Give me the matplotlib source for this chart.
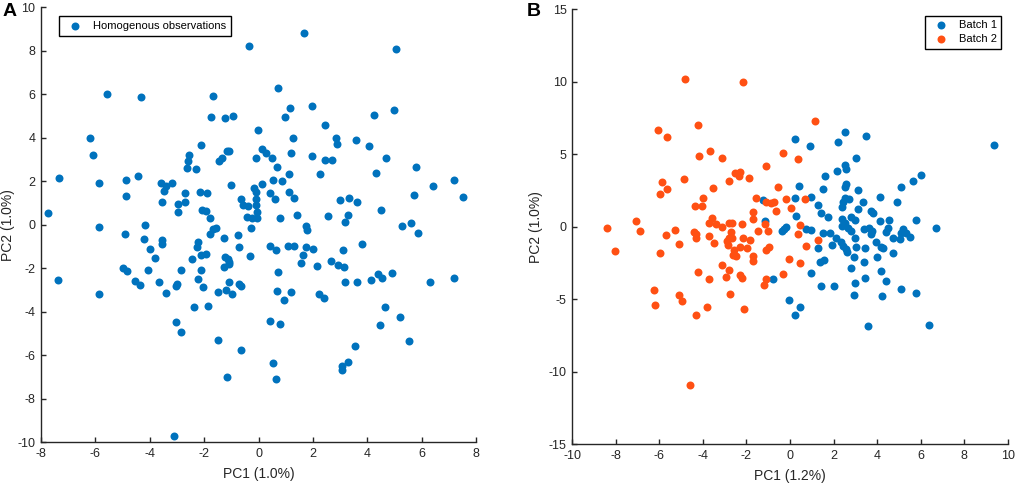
'''PCA score plots: homogenous observations (A) and two batches (B)'''
import matplotlib
matplotlib.use('Agg')
import matplotlib.pyplot as plt
import numpy as np
from matplotlib import rcParams
params = {'font.family': ['Liberation Sans', 'DejaVu Sans'], 'font.size': 8.5,
          'axes.unicode_minus': False}
rcParams.update(params)

# panel A, homogenous observations (PC1, PC2)
homo_x = [-0.34, -5.59, -4.34, -1.66, -1.75, -1.22, -0.92, -6.19, -6.1, -7.33, -5.87, -4.89,
          -4.89, -4.43, -0.02, -7.74,
          -2.11, -2.57, -2.6, -2.62, -2.29, -1.47, -1.33, -1.17, -1.07, -0.09, -3.58, -3.39,
          -3.19, -3.49, -3.54, -2.72, -2.17, -1.9, -2.97, -2.72, -2.97, -2.07, -1.92, -1.78,
          -1.0, -0.66, -0.58, -0.39, -0.42, -0.23, -0.27, -0.17, -0.09, -0.09, -0.11, -0.05, -0.06,
          1.68, 5.04, 0.71, 1.15, 0.99, 1.95, 2.46, 4.25, 4.98, 1.26, 2.84, 2.88, 3.57, 4.08,
          0.13, 0.26, 0.49, 1.21, 1.97, 2.46, 2.72, 4.68, 0.69, 1.12, 2.25, 4.33, 5.81, 0.55,
          0.88, 0.12, 6.41, 7.18, 0.43, 0.61, 1.13, 1.3, 2.99, 3.33, 3.62, 5.72, 7.52, 0.78,
          1.41, 2.56, 3.3, 3.17, 4.52, 1.75, 5.29, 5.61,
          -5.87, -4.16, -4.91, -4.21, -3.54, -3.54, -3.98, -3.79, -4.98, -4.83, -4.08, -4.56,
          -4.37, -3.66, -3.39, -7.39, -5.87, -3.02, -2.99, -2.84, -2.45, -2.27, -2.22, -2.12,
          -1.92, -2.1, -2.23, -2.05, -2.38, -1.86, -1.8, -1.68, -1.58, -1.28, -1.25, -1.14,
          -1.07, -1.1, -1.26, -1.48, -1.19, -1.08, -0.96, -0.71, -0.63, -0.75, -0.7, -0.3,
          -3.05, -2.84, -1.48, -0.65, -1.15, -3.1,
          1.79, 5.88, 0.41, 0.63, 1.08, 1.3, 1.73, 1.99, 1.62, 1.58, 2.14, 3.12, 3.8, 2.67,
          2.91, 3.16, 0.7, 3.18, 3.61, 4.12, 4.39, 4.56, 4.9, 6.29, 7.2, 0.69, 1.2, 0.92,
          2.21, 2.41, 4.66, 5.2, 4.47, 5.54, 0.41, 0.8, 3.56, 0.53, 0.65, 3.07, 3.08, 3.29]
homo_y = [8.22, 6.03, 5.87, 5.9, 4.95, 4.89, 4.98, 3.97, 3.23, 2.17, 1.9, 2.04,
          1.32, 2.24, 4.38, 0.54,
          3.69, 3.2, 2.93, 2.63, 2.57, 2.93, 3.09, 3.41, 3.38, 3.06, 1.94, 1.78,
          1.91, 1.55, 1.05, 1.45, 1.49, 1.46, 0.94, 1.05, 0.59, 0.67, 0.64, 0.33,
          1.82, 1.19, 0.9, 0.86, 0.38, 0.29, -0.15, 1.71, 1.51, 1.17, 0.9, 0.59, 0.29,
          8.84, 8.09, 6.28, 5.38, 4.95, 5.45, 4.58, 5.05, 5.28, 4.01, 3.98, 3.71, 3.9, 3.63,
          3.49, 3.28, 3.05, 3.29, 3.17, 2.96, 3.0, 3.09, 2.68, 2.34, 2.34, 2.39, 2.65, 2.05,
          2.0, 1.87, 1.78, 2.05, 1.44, 1.19, 1.49, 1.21, 1.12, 1.21, 1.04, 1.35, 1.3, 0.29,
          0.44, 0.41, 0.46, 0.15, 0.67, -0.05, -0.05, 0.08,
          -0.12, -0.03, -0.43, -0.66, -0.71, -0.89, -1.13, -1.53, -1.98, -2.12, -2.09, -2.58,
          -2.79, -2.65, -3.13, -2.55, -3.16, -2.82, -2.71, -2.1, -1.56, -1.03, -0.8, -1.41,
          -1.33, -2.07, -2.47, -2.87, -3.79, -3.74, -0.43, -0.18, -0.15, -0.61, -1.5, -1.58,
          -1.69, -1.81, -1.95, -3.1, -2.99, -2.64, -3.16, -2.7, -2.81, -0.46, -1.03, -1.43,
          -4.46, -4.92, -5.29, -5.77, -6.99, -9.69,
          -0.26, -0.38, -0.97, -1.18, -0.97, -0.97, -1.01, -1.12, -1.38, -1.76, -1.9, -1.15, -0.9, -1.67,
          -1.87, -1.95, -2.19, -2.65, -2.61, -2.53, -2.25, -2.45, -2.22, -2.64, -2.44, -3.04, -3.11, -3.45,
          -3.16, -3.36, -3.77, -4.25, -4.62, -5.34, -4.42, -4.54, -5.55, -6.37, -7.1, -6.49, -6.69, -6.3]

# panel B, batch 1
b1_x = [-1.24, -1.16, -0.28, -0.2, -0.35, -0.78,
        3.05, 2.51, 2.56, 2.16, 1.6, 0.43, 1.52, 2.56, 2.52, 3.13, 4.12, 0.25, 0.98, 2.51,
        2.7, 2.44, 3.36, 1.29, 2.39, 3.13, 3.71, 3.82, 1.41, 1.75, 0.29, 2.82, 2.98, 2.41,
        2.51, 2.41, 4.12, 0.75, 0.95, 2.67, 2.82, 3.39, 3.62, 3.77, 1.52, 1.83,
        3.71, 2.97, 2.13, 2.33, 3.93, 1.95, 2.44, 2.56, 2.64, 3.05, 3.43, 4.2, 1.29, 2.94,
        4.0, 1.37, 1.56, 3.39, 2.78, 4.17, 0.98, 3.43, 2.97, 1.41, 2.02,
        0.25, 0.9, 2.53, 3.48, 2.22, 9.38, 6.02, 5.67, 5.1, 4.92, 5.81, 4.55, 5.2,
        6.7, 5.11, 5.06, 5.52, 5.34, 4.71, 4.43, 4.49, 4.75, 4.29, 4.42, 5.08, 5.81, 4.23,
        2.94, -0.05, 0.46, 0.21, 3.57, 6.38]
b1_y = [1.86, 0.39, -0.16, -0.02, -0.3, -3.63,
        4.72, 4.26, 3.98, 3.84, 3.5, 2.81, 2.58, 2.92, 2.76, 2.51, 2.07, 1.96, 2.07, 1.96,
        1.89, 1.72, 1.68, 1.47, 1.34, 1.2, 1.08, 0.92, 0.92, 0.69, 0.72, 0.69, 0.46, 0.51,
        0.23, 0.05, 0.41, -0.16, -0.23, -0.07, -0.3, -0.18, -0.11, -0.3, -0.41, -0.46,
        -0.53, -0.76, -0.8, -1.03, -1.03, -1.26, -1.31, -1.54, -1.72, -1.38, -1.45, -1.38, -1.45, -2.07,
        -2.07, -2.41, -2.3, -2.41, -2.87, -3.06, -3.17, -3.52, -3.86, -4.09, -4.09,
        6.07, 5.54, 6.51, 6.23, 5.82, 5.61, 3.54, 3.15, 2.76, 1.72, 0.46, 0.48, -0.18,
        -0.11, -0.46, -0.85, -0.69, -0.41, -0.78, -0.34, -0.07, -1.79, -1.45, -3.77, -4.3, -4.57, -4.8,
        -4.71, -5.08, -5.56, -6.11, -6.83, -6.78]

# panel B, batch 2
b2_x = [-4.82, -2.17, -4.24, -6.05, -5.65, -4.88, -5.88, -5.63, -5.97,
        -8.39, -7.08, -6.9, -8.04, -5.69, -5.28, -5.12, -5.98, -6.27, -6.22, -5.09, -4.98,
        -4.59, -4.33, -3.81, -2.74, -2.11,
        -4.18, -3.68, -3.13, -1.1, -0.32, -2.51, -2.31, -2.36, -2.82, -1.9, -3.54, -0.57,
        -3.98, -4.35, -4.06, -1.56, -1.12, -0.87, -0.75, -0.17, -0.64, -1.7, -1.7, -3.57,
        -3.74, -3.42, -3.12, -2.8, -2.68, -2.21, -1.16, -1.45, -1.03, -4.43, -4.3, -4.3,
        -3.74, -3.51, -2.71, -2.8, -2.68, -2.88, -2.86, -2.16, -1.85, -2.31, -1.98, -2.59,
        -2.62, -2.5, -1.7, -1.7, -1.1, -0.97, -0.05, -3.14, -2.82, -2.92, -2.31, -2.21,
        -4.23, -3.72, -1.12, -0.32, -1.21,
        0.37, 0.71, 0.03, 0.45, 0.37, 1.29, 0.72, 0.45, 1.13]
b2_y = [10.17, 10.0, 7.04, 6.67, 6.17, 3.31, 3.11, 2.62, 2.23,
        -0.07, 0.37, -0.3, -1.68, -0.55, -0.23, -1.17, -1.84, -4.37, -5.36, -4.71, -5.15,
        -10.92, -6.05, -5.52, -4.6, -5.7,
        4.9, 5.24, 4.76, 4.19, 5.1, 3.72, 3.75, 3.5, 3.17, 3.36, 2.69, 2.76,
        1.96, 1.45, 1.45, 2.0, 1.7, 1.66, 1.68, 1.89, 1.08, 1.01, 0.53, 0.62,
        0.23, 0.21, -0.02, 0.28, 0.28, 0.21, 0.19, -0.28, -0.28, -0.39, -0.5, -0.8,
        -0.64, -1.1, -0.37, -0.78, -0.78, -1.01, -1.26, -0.76, -0.94, -1.4, -1.49, -1.58,
        -1.97, -2.02, -2.02, -2.39, -1.63, -1.38, -2.23, -2.64, -3.01, -3.45, -3.33, -3.56,
        -3.1, -3.59, -3.63, -3.24, -4.04,
        4.67, 1.89, 1.31, 0.14, -0.5, -0.92, -1.33, -2.53, 7.33]

blue = '#0072BD'
orange = '#FF5013'
axc = '#262626'
ms = 33

fig = plt.figure(figsize=(10.17, 4.84), dpi=100)
ax1 = fig.add_axes([41/1017, 41.7/484, 435/1017, 435/484])
ax2 = fig.add_axes([572.3/1017, 39.7/484, 435.4/1017, 435/484])

ax1.scatter(homo_x, homo_y, s=ms, color=blue, linewidths=0, label='Homogenous observations')
ax2.scatter(b1_x, b1_y, s=ms, color=blue, linewidths=0, label='Batch 1')
ax2.scatter(b2_x, b2_y, s=ms, color=orange, linewidths=0, label='Batch 2')

ax1.set_xlim(-8, 8)
ax1.set_ylim(-10, 10)
ax1.set_xticks(np.arange(-8, 9, 2))
ax1.set_yticks(np.arange(-10, 11, 2))
ax1.set_xlabel('PC1 (1.0%)', fontsize=10, color=axc, labelpad=5)
ax1.set_ylabel('PC2 (1.0%)', fontsize=10, color=axc, labelpad=2)

ax2.set_xlim(-10, 10)
ax2.set_ylim(-15, 15)
ax2.set_xticks(np.arange(-10, 11, 2))
ax2.set_yticks(np.arange(-15, 16, 5))
ax2.set_xlabel('PC1 (1.2%)', fontsize=10, color=axc, labelpad=5)
ax2.set_ylabel('PC2 (1.0%)', fontsize=10, color=axc, labelpad=4)

for ax in [ax1, ax2]:
    ax.spines['top'].set_visible(False)
    ax.spines['right'].set_visible(False)
    for sp in ['left', 'bottom']:
        ax.spines[sp].set_color(axc)
        ax.spines[sp].set_linewidth(1.0)
    ax.tick_params(direction='in', length=3.5, width=1.0, colors=axc, labelsize=9, pad=4)

leg1 = ax1.legend(loc='upper left', bbox_to_anchor=(0.041, 0.98), borderaxespad=0, fontsize=8,
                  frameon=True, fancybox=False, edgecolor='black', framealpha=1,
                  handlelength=2.0, handletextpad=0.6, borderpad=0.45)
leg1.get_frame().set_linewidth(1.0)
leg2 = ax2.legend(loc='upper right', bbox_to_anchor=(0.985, 0.985), borderaxespad=0, fontsize=8,
                  frameon=True, fancybox=False, edgecolor='black', framealpha=1,
                  handlelength=2.0, handletextpad=0.6, borderpad=0.4, labelspacing=0.35)
leg2.get_frame().set_linewidth(1.0)

fig.text(3/1017, 1 - 3/484, 'A', fontsize=14, weight='bold', va='top', ha='left')
fig.text(527/1017, 1 - 3/484, 'B', fontsize=14, weight='bold', va='top', ha='left')

plt.savefig('out.png', dpi=100)
